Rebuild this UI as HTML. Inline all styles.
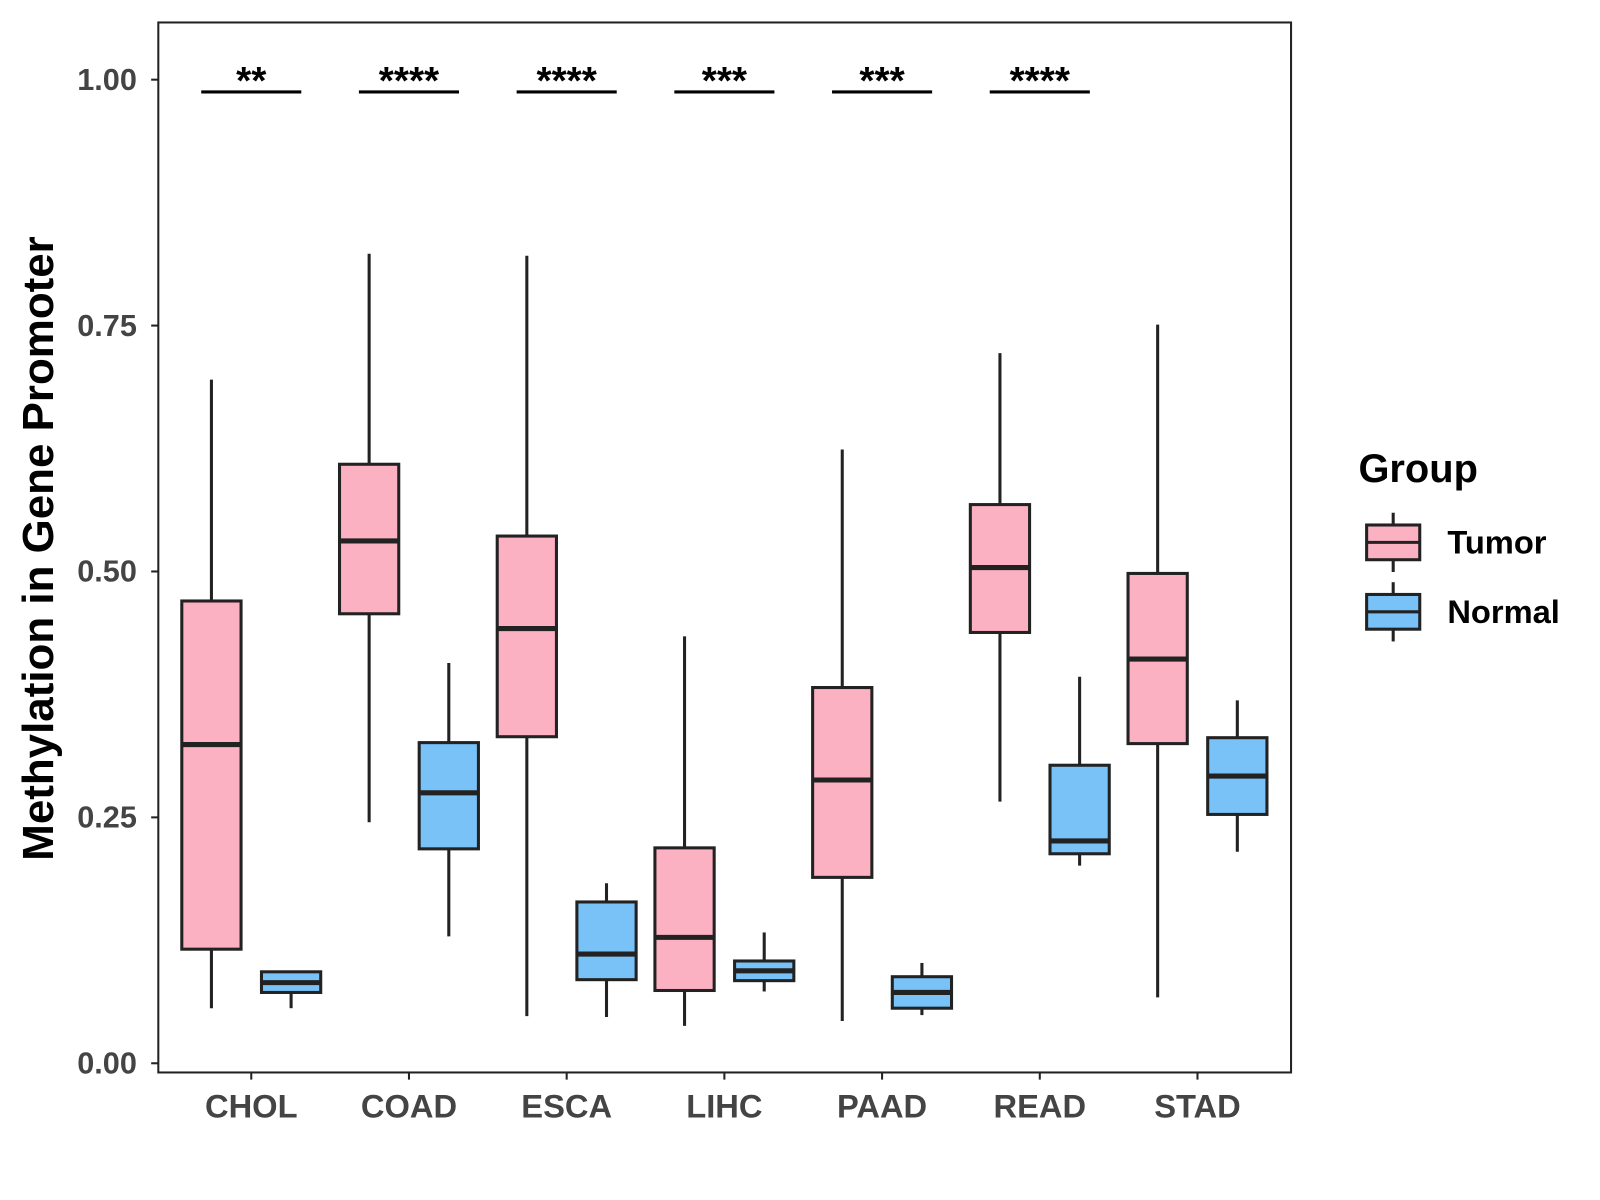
<!DOCTYPE html>
<html><head><meta charset="utf-8"><style>body{margin:0;background:#fff}svg{display:block}</style></head>
<body>
<svg id="chart" width="1600" height="1200" xmlns="http://www.w3.org/2000/svg" font-family="Liberation Sans, Arial, sans-serif">
<g transform="scale(1.0214)">
<rect x="155" y="22" width="1109" height="1028" fill="#fff" stroke="#222" stroke-width="2"/>
<g id="g"></g>
<text transform="translate(52,537) rotate(-90)" text-anchor="middle" font-size="43" font-weight="bold">Methylation in Gene Promoter</text>
<g>
<text x="1330" y="472" font-size="39" font-weight="bold">Group</text>
<g>
<line x1="1364" y1="502" x2="1364" y2="560" stroke="#222" stroke-width="3"/>
<rect x="1338" y="514" width="52" height="34" fill="#FCB1C3" stroke="#222" stroke-width="3"/>
<line x1="1338" y1="531" x2="1390" y2="531" stroke="#222" stroke-width="3"/>
<text x="1417" y="542" font-size="32" font-weight="bold">Tumor</text></g>
<g>
<line x1="1364" y1="570" x2="1364" y2="628" stroke="#222" stroke-width="3"/>
<rect x="1338" y="582" width="52" height="34" fill="#78C2F8" stroke="#222" stroke-width="3"/>
<line x1="1338" y1="599" x2="1390" y2="599" stroke="#222" stroke-width="3"/>
<text x="1417" y="610" font-size="32" font-weight="bold">Normal</text></g>
</g>
</g>
</svg>
<script>
const categories=["CHOL","COAD","ESCA","LIHC","PAAD","READ","STAD"];
const tumorStats=[[0.056,0.116,0.324,0.470,0.695],[0.245,0.457,0.531,0.609,0.823],[0.048,0.332,0.442,0.536,0.821],[0.038,0.074,0.128,0.219,0.434],[0.043,0.189,0.288,0.382,0.624],[0.266,0.438,0.504,0.568,0.722],[0.067,0.325,0.411,0.498,0.751]];
const normalStats=[[0.056,0.072,0.082,0.093,0.093],[0.129,0.218,0.275,0.326,0.407],[0.047,0.085,0.111,0.164,0.183],[0.073,0.084,0.094,0.104,0.133],[0.049,0.056,0.072,0.088,0.102],[0.201,0.213,0.226,0.303,0.393],[0.215,0.253,0.292,0.331,0.369]];
const signif=["**","****","****","***","***","****",""];
const yTicks=[0,0.25,0.5,0.75,1.0];
const yTickLabels=["0.00","0.25","0.50","0.75","1.00"];
const NS="http://www.w3.org/2000/svg";
const g=document.getElementById("g");
const y=v=>1041-v*963;
const x=i=>246+i*154.4;
function el(t,a,p){const e=document.createElementNS(NS,t);for(const k in a)e.setAttribute(k,a[k]);(p||g).appendChild(e);return e;}
yTicks.forEach((v,i)=>{
 const t=el("line",{x1:148,x2:155,y1:y(v),y2:y(v),stroke:"#222","stroke-width":2});
 
 
 const l=el("text",{x:134,y:y(v)+10,"text-anchor":"end","font-size":30,"font-weight":"bold",fill:"#444"});
 l.textContent=yTickLabels[i];
 
 
});
function box(s,cx,fill,name){
 const gr=el("g",{});
 
 
 el("line",{x1:cx,x2:cx,y1:y(s[0]),y2:y(s[4]),stroke:"#222","stroke-width":3},gr);
 el("rect",{x:cx-29,y:y(s[3]),width:58,height:y(s[1])-y(s[3]),fill:fill,stroke:"#222","stroke-width":3},gr);
 el("line",{x1:cx-29,x2:cx+29,y1:y(s[2]),y2:y(s[2]),stroke:"#222","stroke-width":5},gr);
}
categories.forEach((c,i)=>{
 const cx=x(i);
 box(tumorStats[i],cx-39,"#FCB1C3","box-tumor-"+c.toLowerCase());
 box(normalStats[i],cx+39,"#78C2F8","box-normal-"+c.toLowerCase());
 const t=el("line",{x1:cx,x2:cx,y1:1050,y2:1057,stroke:"#222","stroke-width":2});
 
 
 const l=el("text",{x:cx,y:1094,"text-anchor":"middle","font-size":32,"font-weight":"bold",fill:"#444"});
 l.textContent=c;
 
 
 if(signif[i]){
  const b=el("line",{x1:cx-49,x2:cx+49,y1:90,y2:90,stroke:"#000","stroke-width":3});
  
  
  const s=el("text",{x:cx,y:92,"text-anchor":"middle","font-size":38,"font-weight":"bold"});
  s.textContent=signif[i];
  
  
 }
});
</script>
</body></html>
